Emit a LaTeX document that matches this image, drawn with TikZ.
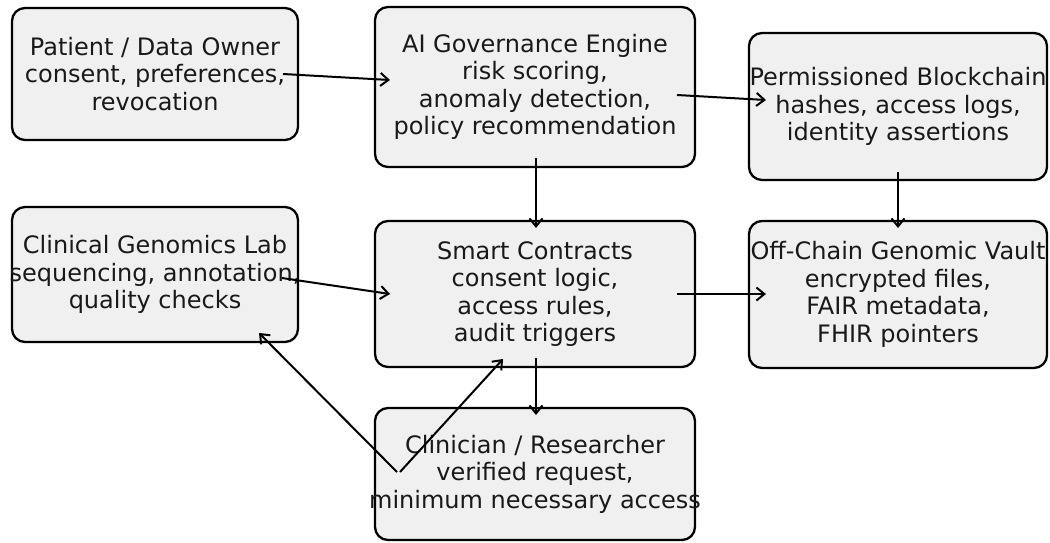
\documentclass[tikz,border=0pt]{standalone}
\usepackage{fontspec}
\setmainfont{DejaVu Sans}
\usetikzlibrary{arrows.meta,calc}
\definecolor{boxgray}{HTML}{F0F0F0}
\begin{document}
\begin{tikzpicture}[x=1pt,y=-1pt,
  box/.style={draw=black, line width=2.3pt, fill=boxgray, rounded corners=13pt, inner sep=0pt},
  txt/.style={align=center, font=\fontsize{24}{27.5}\selectfont, inner sep=0pt, text=black!90},
  arr/.style={line width=2pt, -{Straight Barb[length=8pt,width=13pt,line width=2pt]}}]
\useasboundingbox (0,0) rectangle (1050,542);
% boxes
\node[box, minimum width=286pt, minimum height=132pt] (patient) at (155,74) {};
\node[box, minimum width=320pt, minimum height=160pt] (ai) at (535,87) {};
\node[box, minimum width=298pt, minimum height=147pt] (block) at (898,106.5) {};
\node[box, minimum width=286pt, minimum height=135pt] (lab) at (155,274.5) {};
\node[box, minimum width=320pt, minimum height=146pt] (smart) at (535,294) {};
\node[box, minimum width=298pt, minimum height=147pt] (vault) at (898,294.5) {};
\node[box, minimum width=320pt, minimum height=132pt] (clin) at (535,474) {};
% texts
\node[txt] (patient-t) at (patient) {Patient / Data Owner\\consent, preferences,\\revocation};
\node[txt] (ai-t) at (ai) {AI Governance Engine\\risk scoring,\\anomaly detection,\\policy recommendation};
\node[txt] (block-t) at (block) {Permissioned Blockchain\\hashes, access logs,\\identity assertions};
\node[txt] (lab-t) at (lab) {Clinical Genomics Lab\\sequencing, annotation,\\quality checks};
\node[txt] (smart-t) at (smart) {Smart Contracts\\consent logic,\\access rules,\\audit triggers};
\node[txt] (vault-t) at (vault) {Off-Chain Genomic Vault\\encrypted files,\\FAIR metadata,\\FHIR pointers};
\node[txt] (clin-t) at (clin) {Clinician / Researcher\\verified request,\\minimum necessary access};
% arrows
\draw[arr] ($(patient.center)+(128,0)$) -- ($(ai.center)+(-145,-7)$);
\draw[arr] ($(ai.center)+(142,8)$) -- ($(block.center)+(-132,-6.5)$);
\draw[arr] ($(ai.center)+(1,71)$) -- ($(smart.center)+(1,-66)$);
\draw[arr] ($(block.center)+(0,65.5)$) -- ($(vault.center)+(0,-66.5)$);
\draw[arr] ($(lab.center)+(127,3.5)$) -- ($(smart.center)+(-145,0)$);
\draw[arr] ($(smart.center)+(142,0)$) -- ($(vault.center)+(-132,-0.5)$);
\draw[arr] ($(smart.center)+(1,64)$) -- ($(clin.center)+(1,-59)$);
\draw[arr] ($(clin.center)+(-138,-2)$) -- ($(lab.center)+(104,58.5)$);
\draw[arr] ($(clin.center)+(-135,-2)$) -- ($(smart.center)+(-32,65)$);
\end{tikzpicture}
\end{document}
